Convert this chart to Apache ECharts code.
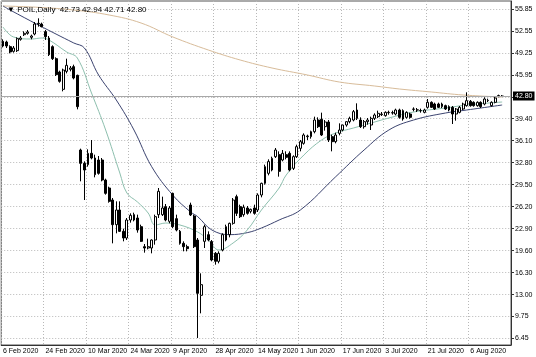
<!DOCTYPE html>
<html>
<head>
<meta charset="utf-8">
<script src="https://cdn.jsdelivr.net/npm/echarts@6/dist/echarts.min.js"></script>
<style>html,body{margin:0;padding:0;background:#fff}#c{width:536px;height:357px}</style>
</head>
<body>
<div id="c"></div>
<script>
// Daily candles: [open, close, low, high]
const candles = [
[51.0,50.3,50.1,51.3],[50.9,50.3,50.0,51.1],[50.2,49.4,49.2,50.4],[49.5,50.0,49.3,50.3],[49.6,51.4,49.4,51.6],
[51.3,51.5,51.1,51.8],[52.0,52.2,51.8,52.5],[52.2,52.4,52.0,52.7],[51.6,51.8,51.3,52.0],[52.1,53.6,51.9,53.9],
[53.6,53.7,53.2,54.45],[53.6,53.2,53.1,53.8],[52.45,51.7,51.2,52.7],[51.5,49.0,48.8,51.8],[50.2,48.4,48.2,50.4],
[48.4,46.0,45.8,48.6],[46.4,45.0,44.8,46.6],[43.8,46.7,43.5,46.9],[46.5,47.4,46.2,48.4],[46.8,47.0,46.5,47.3],
[47.2,45.5,45.3,47.5],[45.9,41.2,40.8,46.0],
[34.7,32.7,30.0,34.9],[32.7,31.7,27.2,33.0],[32.5,34.2,32.2,34.8],[34.2,33.5,33.3,36.2],[33.5,31.0,30.6,34.0],
[33.2,31.2,31.0,33.8],[33.2,30.2,30.0,33.5],[30.2,28.2,28.0,30.4],[29.0,27.0,26.8,29.2],[27.2,23.5,20.7,27.5],
[23.5,25.7,22.2,27.0],[25.7,22.5,22.4,27.0],[22.5,21.5,21.0,22.9],[21.5,24.2,21.2,24.5],[24.2,24.9,23.8,25.2],
[25.0,24.2,24.0,25.3],[24.5,22.7,22.3,25.0],[23.2,21.0,20.9,23.5],[20.2,20.0,19.3,20.6],[20.0,20.2,19.8,21.4],
[20.0,21.2,19.2,21.3],[21.2,24.7,20.5,25.0],[25.0,28.5,24.5,29.0],[25.0,26.0,24.8,27.7],[26.2,24.2,24.0,26.6],
[24.0,26.0,23.7,26.3],[28.2,23.2,23.0,28.3],[24.4,22.7,22.5,25.0],[22.5,20.7,20.5,22.7],[20.7,20.2,19.5,21.0],
[20.2,19.9,19.5,20.5],
[26.45,24.96,24.8,26.8],[24.8,20.2,20.0,25.0],[21.2,13.2,6.5,21.5],[12.9,14.5,10.2,16.2],[21.0,23.2,20.0,23.5],
[22.0,21.2,21.0,22.5],[20.96,18.2,18.0,21.2],[19.2,18.0,17.5,19.4],[18.0,19.2,17.7,19.5],[19.7,22.0,19.5,22.2],
[21.2,23.2,21.0,23.5],[22.0,23.7,21.6,23.8],[23.7,27.2,23.5,27.5],[27.7,25.2,24.8,28.0],[26.2,24.7,24.5,26.5],
[25.0,26.1,24.7,26.5],[26.0,25.2,25.0,26.3],[25.5,25.8,25.2,25.9],[26.0,25.2,25.0,26.5],[25.7,27.95,25.4,28.2],
[27.95,29.7,27.6,29.8],[29.7,32.2,29.5,32.5],[31.2,32.96,30.9,33.3],
[31.7,33.45,31.5,33.7],[33.7,34.7,33.5,35.0],[34.0,31.5,30.7,34.5],[33.2,34.2,33.0,34.7],[34.0,33.6,33.3,34.5],
[34.2,31.7,31.5,34.5],[31.95,33.7,31.7,33.9],[33.7,35.2,33.5,35.5],[34.95,35.95,34.5,36.2],[35.7,36.95,35.5,37.2],
[36.7,36.8,36.2,37.0],[36.7,37.45,36.4,37.6],[37.45,39.2,37.2,39.7],[39.2,38.2,38.0,39.6],[39.3,36.95,36.8,40.3],
[38.2,38.9,37.6,39.2],[38.9,36.2,35.9,39.2],[36.7,35.95,34.5,37.0],[35.95,36.95,35.7,37.3],[37.2,37.7,36.9,38.7],
[37.7,38.45,37.5,38.5],[38.45,38.95,38.2,39.0],[38.95,39.45,38.7,39.7],[39.2,40.45,39.0,40.7],[40.7,39.45,39.2,41.7],
[39.2,38.2,38.0,39.6],[38.2,38.95,37.9,39.2],[38.95,39.2,38.5,39.5],[38.45,39.45,37.7,39.7],[39.45,39.95,39.2,40.2],
[39.7,40.2,39.5,40.6],
[40.0,40.1,39.8,40.4],[39.85,40.35,39.7,40.5],[40.3,40.35,40.0,40.6],[40.3,40.25,40.0,40.6],[40.1,40.7,39.9,40.9],
[40.7,39.6,39.4,40.9],[40.6,39.35,39.1,40.8],[39.6,40.35,39.4,40.5],[40.1,39.6,39.4,40.3],[40.8,40.85,40.5,41.1],
[40.7,40.72,40.4,41.0],[40.6,40.62,40.3,40.9],[40.35,40.7,40.2,40.9],[41.1,41.85,40.9,42.35],[41.85,41.1,41.0,42.0],
[41.6,40.85,40.7,41.8],[41.6,41.1,41.0,41.8],[41.2,41.6,41.0,41.8],[41.35,40.85,40.7,41.5],[41.2,40.7,40.5,41.4],
[41.1,40.1,38.6,41.3],[40.1,40.85,39.1,41.0],[40.35,41.1,40.2,41.3],[40.85,41.6,40.7,41.8],[41.35,42.1,41.2,43.35],
[42.0,41.35,41.2,42.2],[41.85,41.35,41.2,42.0],[41.35,41.85,41.2,42.0],[41.85,41.2,41.0,42.0],[41.6,42.35,41.4,42.6],
[42.1,42.15,41.9,42.4],[41.35,41.85,41.2,42.0],[41.85,42.5,41.7,42.7],[42.8,42.85,42.6,43.0],[42.73,42.80,42.71,42.94]
];
// Moving averages: [barIndex, value]
const maFast = [[0,53.15],[3,51.65],[8,51.35],[11,51.5],[13,51.2],[18,49.4],[21,48.5],[25,43.25],[29,37.7],[33,31.25],[35,28.25],[38,26.9],[41,25.25],[43,23.45],[46,23.75],[50,23.45],[55,22.4],[58,21.2],[61,19.7],[65,20.75],[69,22.7],[73,25.7],[78,29.0],[80,30.95],[85,33.95],[90,36.2],[94,37.25],[99,38.0],[104,38.75],[109,39.5],[116,40.4],[125,41.0],[131,41.45],[141,41.9]];
const maMid = [[0,56.3],[2,55.7],[10,53.45],[20,50.75],[23,50.0],[27,45.95],[32,42.2],[37,37.7],[42,32.2],[48,27.9],[53,25.4],[55,24.7],[59,22.7],[64,22.0],[69,22.3],[73,23.0],[78,24.2],[84,25.7],[94,30.7],[102,34.7],[109,37.7],[116,39.2],[125,40.25],[131,40.7],[135,41.0],[141,41.45]];
const maSlow = [[0,56.3],[10,56.1],[20,55.7],[30,54.95],[39,53.75],[48,51.65],[58,49.7],[67,48.2],[76,47.0],[86,45.95],[95,44.9],[105,44.3],[112,43.85],[121,43.4],[130,42.95],[141,42.65]];
const xTickLabels = ['6 Feb 2020','24 Feb 2020','10 Mar 2020','24 Mar 2020','9 Apr 2020','28 Apr 2020','14 May 2020','1 Jun 2020','17 Jun 2020','3 Jul 2020','21 Jul 2020','6 Aug 2020'];
const yTickValues = [6.45,9.75,13.00,16.30,19.60,22.90,26.20,29.50,32.80,36.10,39.40,42.65,45.95,49.25,52.55,55.85];
const lastPrice = 42.80;
const headerText = '▼ POIL,Daily  42.73 42.94 42.71 42.80';

const LABEL_EVERY = 12;
const totalSlots = candles.length + 2;
const categories = [];
for (let i = 0; i < totalSlots; i++) categories.push(String(i));
const showTick = (i) => i % LABEL_EVERY === 0 && (i / LABEL_EVERY) < xTickLabels.length;

const chart = echarts.init(document.getElementById('c'), null, {renderer: 'canvas'});
const font = 'Liberation Sans';
chart.setOption({
  animation: false,
  backgroundColor: '#fff',
  title: {
    text: headerText, left: 2, top: 1,
    textStyle: {fontSize: 8, fontWeight: 'normal', color: '#000', fontFamily: font}
  },
  grid: {left: 1, right: 25, top: 1, bottom: 12, show: true, borderColor: '#555', borderWidth: 1},
  xAxis: {
    type: 'category', data: categories, boundaryGap: true,
    axisLine: {lineStyle: {color: '#333'}},
    axisTick: {interval: (i) => showTick(i), alignWithLabel: true, length: 3, lineStyle: {color: '#333'}},
    axisLabel: {
      interval: (i) => showTick(i),
      formatter: (v, i) => xTickLabels[i / LABEL_EVERY] || '',
      align: 'left', margin: 3, fontSize: 7, color: '#000', fontFamily: font
    },
    splitLine: {show: true, interval: (i) => showTick(i), lineStyle: {type: [1, 2], color: '#b8b8b8'}}
  },
  yAxis: {
    type: 'value', position: 'right', min: 5.45, max: 57.05, scale: true,
    axisLine: {show: true, lineStyle: {color: '#333'}},
    axisTick: {show: true, length: 3, customValues: yTickValues, lineStyle: {color: '#333'}},
    axisLabel: {
      customValues: yTickValues.filter(v => Math.abs(v - lastPrice) > 0.5),
      formatter: (v) => v.toFixed(2), margin: 4, fontSize: 7, color: '#000', fontFamily: font
    },
    splitLine: {show: true, lineStyle: {type: [1, 2], color: '#b8b8b8'}}
  },
  series: [
    {
      type: 'line', data: maSlow, showSymbol: false, smooth: 0.4,
      lineStyle: {color: '#d8bc9a', width: 1}, z: 2
    },
    {
      type: 'line', data: maMid, showSymbol: false, smooth: 0.4,
      lineStyle: {color: '#3c4470', width: 1}, z: 3
    },
    {
      type: 'line', data: maFast, showSymbol: false, smooth: 0.4,
      lineStyle: {color: '#8dbfae', width: 1}, z: 3
    },
    {
      type: 'candlestick', data: candles, barWidth: 2.4, z: 4,
      itemStyle: {color: '#fff', color0: '#000', borderColor: '#000', borderColor0: '#000', borderWidth: 1},
      markLine: {
        silent: true, symbol: ['none', 'none'],
        lineStyle: {color: '#a8a8a8', type: 'solid', width: 1},
        label: {
          show: true, position: 'end', distance: 2, formatter: lastPrice.toFixed(2),
          backgroundColor: '#000', color: '#fff', padding: [1, 2], fontSize: 7, fontFamily: font
        },
        data: [{yAxis: lastPrice}]
      }
    }
  ]
});
</script>
</body>
</html>
